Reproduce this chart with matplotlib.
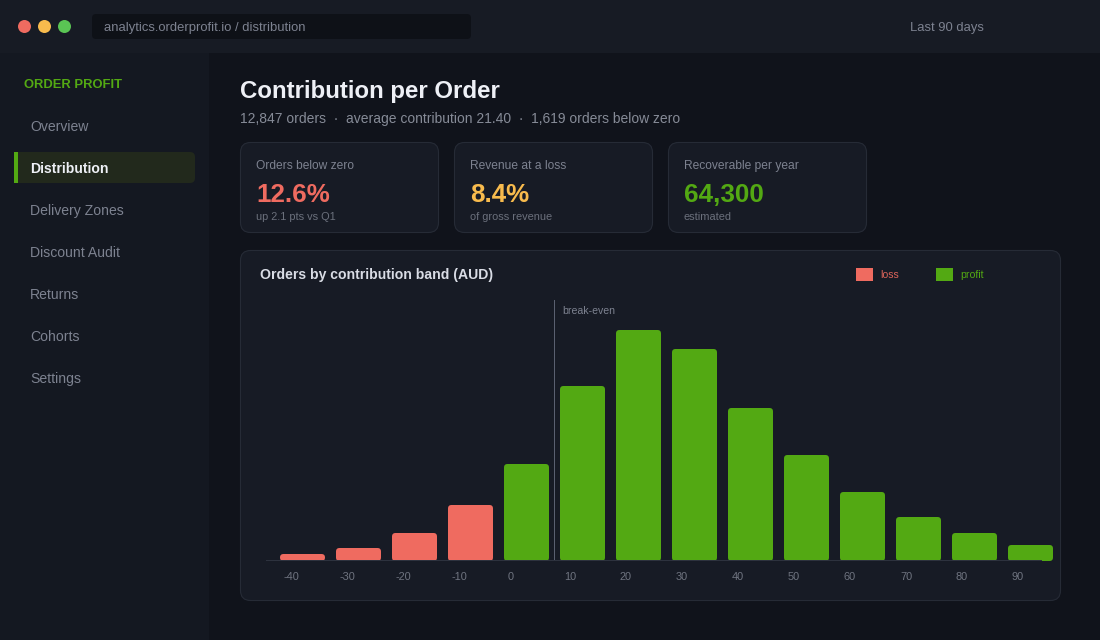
import matplotlib
matplotlib.use("Agg")
import matplotlib.pyplot as plt
from matplotlib.patches import FancyBboxPatch, Rectangle, Circle

plt.rcParams['font.family'] = ['Liberation Sans', 'DejaVu Sans']

bands = [-40, -30, -20, -10, 0, 10, 20, 30, 40, 50, 60, 70, 80, 90]
orders = [7, 13, 28, 56, 97, 175, 231, 212, 153, 106, 69, 44, 28, 16]
break_even = 9
nav_items = ["Overview", "Distribution", "Delivery Zones", "Discount Audit", "Returns", "Cohorts", "Settings"]
card_titles = ["Orders below zero", "Revenue at a loss", "Recoverable per year"]
card_values = ["12.6%", "8.4%", "64,300"]
card_notes = ["up 2.1 pts vs Q1", "of gross revenue", "estimated"]

BG = '#10131b'
TOPBAR = '#171b24'
SIDEBAR = '#141821'
CARD = '#171b25'
BORDER = '#262b36'
RED = '#ef6b60'
YELLOW = '#f8bb4d'
GREEN = '#53a913'
GREY = '#868b97'
DIM = '#7d8290'
LIGHT = '#eef0f6'

fig = plt.figure(figsize=(11, 6.4), dpi=100, facecolor=BG)

# whole-figure layer in pixels for the page around the chart
page = fig.add_axes([0, 0, 1, 1])
page.set_xlim(0, 1100)
page.set_ylim(640, 0)
page.axis('off')


def px_text(x, y, s, size, color, weight='normal', ha='left'):
    # y is the baseline in pixels
    page.text(x, y, s, fontsize=size * 0.72, color=color, fontweight=weight, ha=ha, va='baseline')


def box(x, y, w, h, r, face, edge='none'):
    page.add_patch(FancyBboxPatch((x, y), w, h, boxstyle="round,pad=0,rounding_size=%g" % r,
                                  facecolor=face, edgecolor=edge, linewidth=0.8))


page.add_patch(Rectangle((0, 0), 1100, 52.5, facecolor=TOPBAR, edgecolor='none'))
page.add_patch(Rectangle((0, 52.5), 209, 588, facecolor=SIDEBAR, edgecolor='none'))

for cx, col in zip([24.5, 44.5, 64.5], [RED, YELLOW, '#5ac454']):
    page.add_patch(Circle((cx, 26.5), 6.5, facecolor=col, edgecolor='none'))
box(92, 14, 379, 25, 4, '#0e1117')
px_text(104, 31, "analytics.orderprofit.io / distribution", 13, DIM)
px_text(910, 31, "Last 90 days", 13, DIM)

# sidebar
px_text(24, 88, "ORDER PROFIT", 13, GREEN, weight='bold')
for i, item in enumerate(nav_items):
    y = 131 + 42 * i
    if item == "Distribution":
        box(14, 152, 181, 31, 5, '#22291c')
        page.add_patch(Rectangle((14, 152), 4, 31, facecolor=GREEN, edgecolor='none'))
        px_text(30, y, item, 14, LIGHT, weight='bold')
    else:
        px_text(30, y, item, 14, DIM)

# heading
px_text(240, 98, "Contribution per Order", 24, LIGHT, weight='bold')
px_text(240, 123, "12,847 orders  ·  average contribution 21.40  ·  1,619 orders below zero", 13.9, GREY)

# stat cards
for i in range(3):
    x = 240.5 + 214 * i
    box(x, 142.5, 198, 90, 10, CARD, BORDER)
    px_text(x + 15.5, 169, card_titles[i], 12, DIM)
    px_text(x + 15.5, 202, card_values[i], 26, [RED, YELLOW, GREEN][i], weight='bold')
    px_text(x + 15.5, 220, card_notes[i], 11, '#6b707c')

# chart panel
box(240.5, 250.5, 820, 350, 10, CARD, BORDER)
px_text(260, 279, "Orders by contribution band (AUD)", 14, '#d9dce5', weight='bold')
page.add_patch(Rectangle((856, 268), 17, 13, facecolor=RED, edgecolor='none'))
px_text(880, 278, "loss", 10.5, '#dc645a')
page.add_patch(Rectangle((936, 268), 17, 13, facecolor=GREEN, edgecolor='none'))
px_text(960, 278, "profit", 10.5, GREEN)

# chart axes: 56 px per 10 AUD band, 1 px per y unit
ax = fig.add_axes([266 / 1100, 1 - 561 / 640, (1060 - 266) / 1100, 261 / 640])
ax.patch.set_alpha(0)
ax.set_xlim((266 - 504) / 5.6, (1060 - 504) / 5.6)
ax.set_ylim(0, 261)

colors = [RED if b < 0 else GREEN for b in bands]
bars = ax.bar(bands, orders, width=45 / 5.6, align='edge', color=colors, zorder=2)
for bar in bars:
    # round the corners by clipping each bar
    clip = FancyBboxPatch((bar.get_x(), 0), bar.get_width(), bar.get_height(),
                          boxstyle="round,pad=0,rounding_size=%g" % (3.5 / 5.6),
                          mutation_aspect=5.6, transform=ax.transData)
    bar.set_clip_path(clip)

ax.axvline(break_even, color='#5a6070', linewidth=0.72, zorder=3)
ax.text(break_even + 7.5 / 5.6, 247, "break-even", fontsize=7.6, color=DIM, ha='left', va='baseline')

for side in ['top', 'left', 'right']:
    ax.spines[side].set_visible(False)
ax.spines['bottom'].set_position(('data', 1))
ax.spines['bottom'].set_bounds((266 - 504) / 5.6, (1041 - 504) / 5.6)
ax.spines['bottom'].set_color('#2d323e')
ax.spines['bottom'].set_linewidth(0.72)
ax.spines['bottom'].set_zorder(4)
ax.set_yticks([])
ax.set_xticks([b + 4 / 5.6 for b in bands])
ax.set_xticklabels([str(b) for b in bands], ha='left', fontsize=7.9, color='#6f7480')
ax.tick_params(axis='x', length=0, pad=8.6)

fig.savefig("out.png", dpi=100, facecolor=BG)
